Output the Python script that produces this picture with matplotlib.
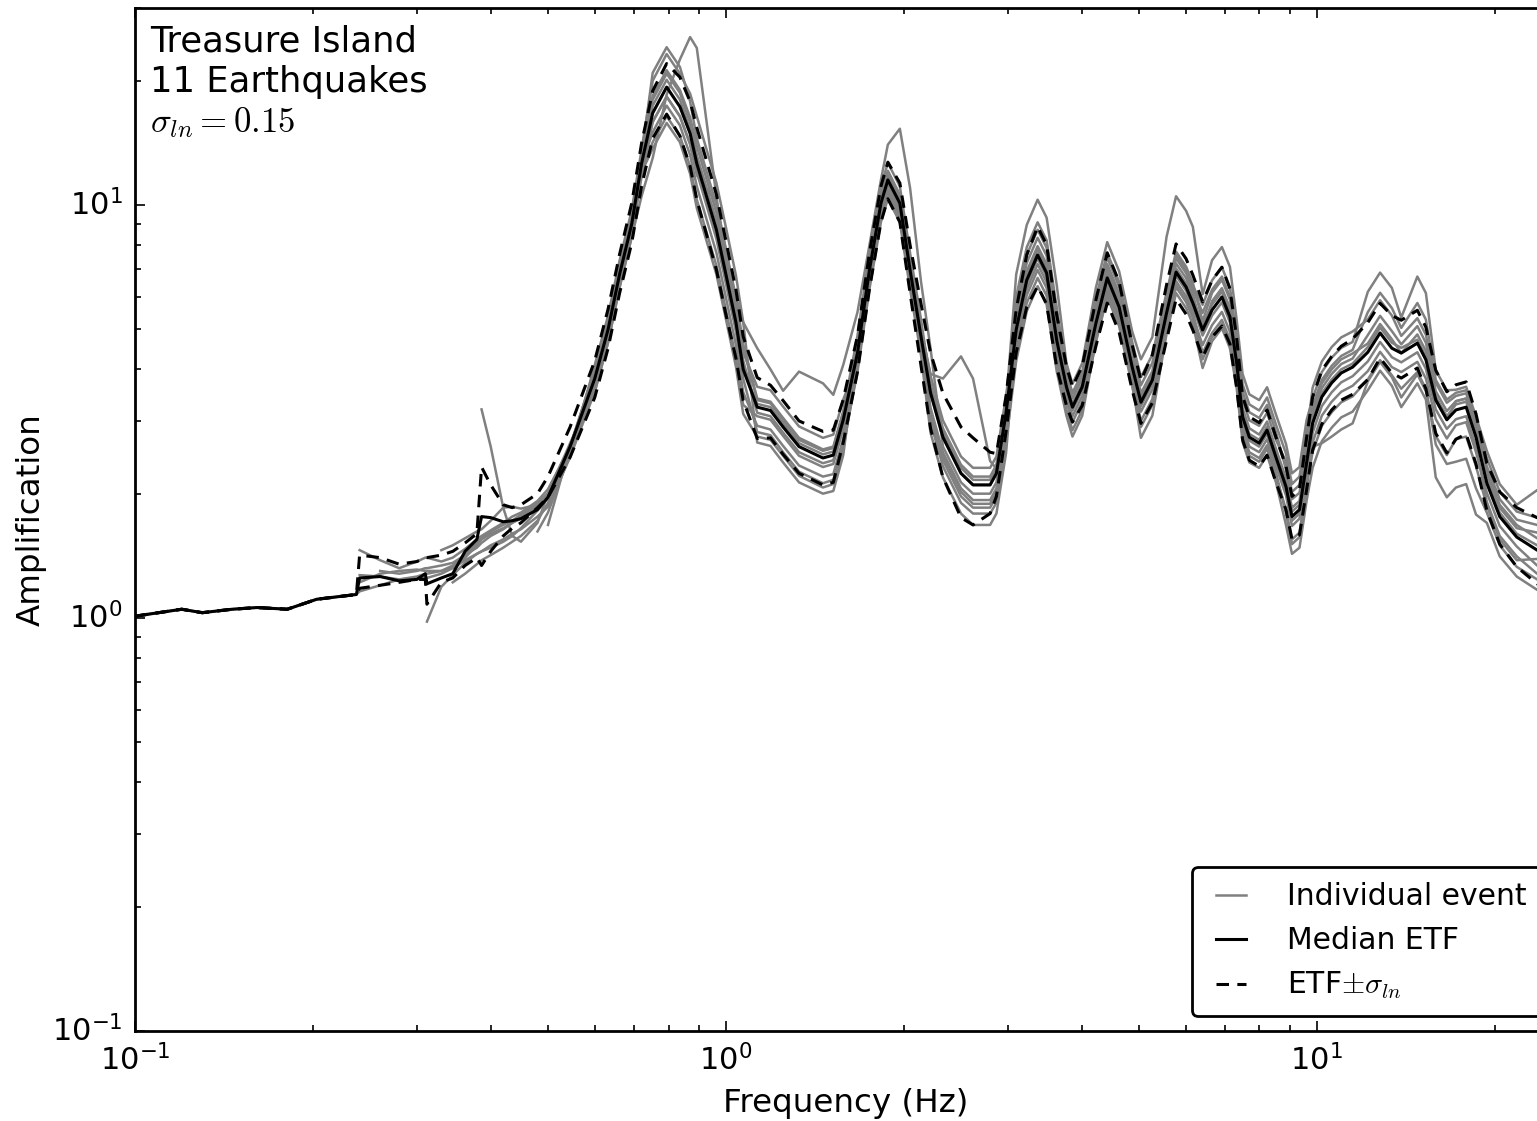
import matplotlib
matplotlib.use('Agg')
import matplotlib.pyplot as plt
import numpy as np

plt.style.use('classic')

nan = np.nan

# frequency grid (Hz) the curves were read at
freq = [0.100, 0.120, 0.130, 0.146, 0.161, 0.181, 0.203, 0.237,
        0.240, 0.260, 0.280, 0.300, 0.310, 0.312, 0.330, 0.345, 0.362, 0.379,
        0.386, 0.400, 0.420, 0.435, 0.450, 0.480, 0.500, 0.545,
        0.600, 0.632, 0.661, 0.693, 0.720, 0.752, 0.794, 0.836, 0.870, 0.893,
        0.964, 1.00, 1.04, 1.07,
        1.13, 1.19, 1.25, 1.33, 1.46, 1.52, 1.58,
        1.67, 1.75, 1.83, 1.88, 1.97, 2.05, 2.14,
        2.22, 2.33, 2.50, 2.62, 2.80, 2.87, 2.98,
        3.10, 3.23, 3.37, 3.49, 3.63, 3.77, 3.86, 4.01, 4.23, 4.42, 4.63, 4.87, 5.04, 5.27,
        5.57, 5.78, 6.01, 6.17, 6.41, 6.65, 6.91, 7.13,
        7.32, 7.49, 7.69, 7.99, 8.24, 8.53, 8.87, 9.08, 9.35, 9.61,
        9.84, 10.2, 10.6, 11.0, 11.5, 12.2, 12.8, 13.4, 13.9, 14.8, 15.3, 15.9, 16.6,
        17.2, 17.9, 18.6, 19.4, 20.4, 21.8, 23.6, 25.0]

median_etf = [1.01, 1.05, 1.03, 1.05, 1.06, 1.05, 1.11, 1.14,
              1.25, 1.26, 1.23, 1.24, 1.28, 1.21, 1.25, 1.28, 1.45, 1.55,
              1.76, 1.75, 1.71, 1.72, 1.74, 1.83, 1.96, 2.6,
              3.8, 5.0, 6.8, 9.0, 12.6, 16.7, 19.3, 17.3, 14.9, 12.6,
              8.7, 6.8, 5.2, 4.0,
              3.24, 3.18, 2.9, 2.6, 2.44, 2.48, 3.02,
              4.38, 6.96, 10.1, 11.5, 10.1, 6.96, 4.79,
              3.51, 2.74, 2.24, 2.10, 2.10, 2.24, 3.14,
              4.99, 6.58, 7.57, 6.85, 4.71, 3.63, 3.24, 3.63, 5.18, 6.66, 5.66, 4.06, 3.33, 3.77,
              5.48, 6.88, 6.33, 5.79, 4.98, 5.57, 5.99, 5.36,
              4.14, 3.07, 2.74, 2.65, 2.85, 2.45, 2.08, 1.76, 1.83, 2.37,
              2.96, 3.43, 3.71, 3.92, 4.05, 4.4, 4.9, 4.5, 4.38, 4.63, 4.22, 3.37, 3.02,
              3.19, 3.24, 2.74, 2.12, 1.76, 1.57, 1.46, 1.40]

upper_etf = [1.01, 1.05, 1.03, 1.05, 1.06, 1.05, 1.11, 1.14,
             1.42, 1.40, 1.35, 1.37, 1.40, 1.40, 1.42, 1.45, 1.52, 1.60,
             2.32, 2.1, 1.88, 1.85, 1.88, 2.0, 2.2, 2.9,
             4.2, 5.6, 7.6, 10.1, 14.1, 18.9, 22.0, 20.4, 17.8, 15.4,
             10.6, 8.2, 6.24, 4.8,
             3.82, 3.66, 3.36, 3.0, 2.83, 2.85, 3.38,
             4.82, 7.66, 11.1, 12.7, 11.3, 8.0, 5.75,
             4.39, 3.5, 2.9, 2.73, 2.52, 2.5, 3.45,
             5.59, 7.57, 8.86, 8.01, 5.42, 4.07, 3.63, 4.07, 5.9, 7.66, 6.51, 4.59, 3.76, 4.34,
             6.41, 8.05, 7.41, 6.77, 5.83, 6.57, 7.07, 6.27,
             4.76, 3.44, 3.07, 2.97, 3.19, 2.74, 2.33, 1.97, 2.05, 2.73,
             3.43, 3.98, 4.30, 4.55, 4.74, 5.19, 5.78, 5.4, 5.26, 5.56, 5.06, 3.98, 3.53,
             3.67, 3.73, 3.12, 2.37, 2.02, 1.85, 1.75, 1.68]

lower_etf = [1.01, 1.05, 1.03, 1.05, 1.06, 1.05, 1.11, 1.14,
             1.18, 1.20, 1.22, 1.24, 1.24, 1.08, 1.22, 1.25, 1.34, 1.40,
             1.34, 1.45, 1.58, 1.65, 1.70, 1.85, 1.96, 2.45,
             3.42, 4.5, 6.12, 8.1, 11.1, 14.5, 16.6, 14.7, 12.4, 10.3,
             6.96, 5.44, 4.26, 3.36,
             2.72, 2.73, 2.49, 2.24, 2.1, 2.13, 2.66,
             3.94, 6.26, 9.09, 10.35, 9.09, 6.12, 4.07,
             2.88, 2.19, 1.75, 1.68, 1.79, 1.97, 2.83,
             4.39, 5.66, 6.36, 5.75, 4.05, 3.27, 2.98, 3.27, 4.56, 5.79, 4.92, 3.57, 2.96, 3.32,
             4.71, 5.92, 5.44, 4.98, 4.28, 4.79, 5.09, 4.61,
             3.6, 2.7, 2.41, 2.33, 2.48, 2.13, 1.83, 1.55, 1.59, 2.04,
             2.55, 2.95, 3.19, 3.37, 3.48, 3.78, 4.26, 3.92, 3.81, 4.03, 3.59, 2.8, 2.51,
             2.71, 2.79, 2.36, 1.82, 1.51, 1.33, 1.21, 1.16]

# the 11 individual events (nan = event record does not reach that frequency)
ev01 = [1.01, 1.05, 1.03, 1.05, 1.06, 1.05, 1.11, 1.14,
        1.16, 1.20, 1.24, 1.25, 1.25, 1.25, 1.28, 1.32, 1.38, 1.43,
        1.45, 1.48, 1.53, 1.58, 1.65, 1.82, 1.95, 2.6,
        3.8, 5.0, 6.8, 9.0, 12.6, 15.0, 17.4, 15.6, 13.2, 11.1,
        7.66, 5.98, 4.58, 3.52,
        2.92, 2.86, 2.61, 2.34, 2.2, 2.23, 2.72,
        4.25, 6.75, 9.8, 11.2, 9.8, 6.75, 4.65,
        3.23, 2.52, 2.06, 1.93, 1.93, 2.06, 2.89,
        4.59, 6.05, 6.96, 6.3, 4.33, 3.45, 3.08, 3.45, 4.92, 6.33, 5.38, 3.86, 3.16, 3.58,
        5.1, 6.4, 5.89, 5.38, 4.58, 5.12, 5.51, 4.93,
        3.93, 2.92, 2.6, 2.52, 2.71, 2.33, 1.98, 1.67, 1.74, 2.25,
        2.66, 3.09, 3.34, 3.53, 3.65, 3.96, 4.41, 4.05, 3.94, 4.17, 3.8, 3.03, 2.72,
        2.93, 2.98, 2.52, 2.01, 1.67, 1.49, 1.34, 1.29]

ev02 = [nan, nan, nan, nan, nan, nan, nan, nan,
        1.46, 1.38, 1.32, 1.37, 1.40, 1.40, 1.37, 1.40, 1.47, 1.55,
        1.58, 1.63, 1.70, 1.76, 1.80, 1.92, 2.05, 2.6,
        3.99, 5.25, 7.14, 9.45, 13.2, 20.9, 24.1, 21.6, 17.8, 14.5,
        10.0, 7.82, 5.98, 4.6,
        3.4, 3.34, 3.05, 2.73, 2.56, 2.6, 3.17,
        4.82, 7.66, 11.1, 12.65, 11.1, 7.66, 5.27,
        3.69, 2.88, 2.35, 2.2, 2.2, 2.35, 3.3,
        6.79, 8.95, 10.3, 9.32, 6.41, 4.14, 3.69, 4.14, 6.32, 8.13, 6.91, 4.95, 4.23, 4.79,
        8.38, 10.5, 9.68, 8.86, 6.08, 7.35, 7.91, 7.08,
        5.26, 3.9, 3.48, 3.37, 3.62, 3.11, 2.64, 2.24, 2.32, 3.01,
        3.4, 3.94, 4.27, 4.51, 4.66, 6.16, 6.86, 6.3, 5.34, 6.71, 6.12, 3.98, 3.56,
        3.57, 3.63, 3.07, 2.54, 2.11, 1.88, 2.04, 1.96]

ev03 = [nan, nan, nan, nan, nan, nan, nan, nan,
        1.22, 1.28, 1.30, 1.31, 1.30, 1.30, 1.30, 1.33, 1.40, 1.50,
        1.55, 1.60, 1.65, 1.70, 1.76, 1.88, 2.0, 2.65,
        3.61, 4.75, 6.46, 8.55, 12.0, 13.7, 15.8, 14.2, 11.9, 9.83,
        6.79, 5.3, 4.06, 3.12,
        2.75, 2.7, 2.47, 2.21, 2.07, 2.11, 2.57,
        4.03, 6.4, 9.29, 10.6, 9.29, 6.4, 4.41,
        2.98, 2.33, 1.9, 1.79, 1.79, 1.9, 2.67,
        4.19, 5.53, 6.36, 5.75, 3.96, 3.09, 2.75, 3.09, 4.71, 6.06, 5.15, 3.69, 2.73, 3.09,
        4.88, 6.12, 5.63, 5.15, 4.03, 4.68, 5.03, 4.5,
        3.6, 2.67, 2.38, 2.31, 2.48, 2.13, 1.68, 1.43, 1.48, 1.92,
        2.31, 2.68, 2.89, 3.06, 3.16, 3.56, 3.97, 3.65, 3.24, 3.7, 3.38, 2.19, 1.96,
        2.07, 2.11, 1.78, 1.7, 1.41, 1.26, 1.17, 1.12]

ev04 = [nan, nan, nan, nan, nan, nan, nan, nan,
        1.27, 1.26, 1.24, 1.26, 1.28, 1.28, 1.30, 1.34, 1.42, 1.52,
        1.56, 1.62, 1.68, 1.72, 1.78, 1.90, 2.0, 2.6,
        3.88, 5.1, 6.94, 9.18, 12.85, 17.4, 20.1, 18.0, 15.2, 12.6,
        8.7, 6.8, 5.2, 4.0,
        3.3, 3.24, 2.96, 2.65, 2.49, 2.53, 3.08,
        4.47, 7.1, 10.3, 11.7, 10.3, 7.1, 4.89,
        3.51, 2.74, 2.24, 2.1, 2.1, 2.24, 3.14,
        5.14, 6.78, 7.8, 7.06, 4.85, 3.7, 3.3, 3.7, 5.28, 6.79, 5.77, 4.14, 3.43, 3.88,
        5.59, 7.02, 6.46, 5.91, 5.13, 5.74, 6.17, 5.52,
        4.22, 3.13, 2.79, 2.7, 2.91, 2.5, 2.14, 1.81, 1.88, 2.44,
        3.02, 3.5, 3.78, 4.0, 4.13, 4.53, 5.05, 4.64, 4.51, 4.72, 4.3, 3.44, 3.08,
        3.29, 3.34, 2.82, 2.16, 1.8, 1.6, 1.5, 1.44]

ev05 = [nan, nan, nan, nan, nan, nan, nan, nan,
        nan, nan, nan, nan, nan, 0.98, 1.19, 1.27, 1.36, 1.43,
        1.45, 1.50, 1.55, 1.60, 1.64, 1.76, 1.86, 2.45,
        3.53, 4.65, 6.32, 8.37, 11.7, 15.9, 18.3, 16.4, 14.0, 11.8,
        10.2, 7.8, 5.8, 4.4,
        3.63, 3.56, 3.25, 2.91, 2.73, 2.78, 3.38,
        4.16, 6.61, 9.6, 10.9, 9.6, 6.61, 4.55,
        3.62, 2.82, 2.31, 2.16, 2.16, 2.31, 3.23,
        5.49, 7.24, 8.33, 7.54, 5.18, 3.81, 3.4, 3.81, 5.59, 7.19, 6.11, 4.38, 3.5, 3.96,
        5.92, 7.43, 6.84, 6.25, 5.48, 6.24, 6.71, 6.0,
        4.55, 3.38, 3.01, 2.92, 3.14, 2.7, 2.39, 2.02, 2.1, 2.73,
        3.61, 4.18, 4.53, 4.78, 4.94, 5.28, 5.88, 5.4, 4.82, 5.32, 4.85, 3.71, 3.32,
        3.45, 3.5, 2.96, 2.33, 1.94, 1.73, 1.68, 1.61]

ev06 = [nan, nan, nan, nan, nan, nan, nan, nan,
        nan, nan, nan, nan, nan, nan, nan, 1.22, 1.28, 1.35,
        1.38, 1.42, 1.48, 1.53, 1.58, 1.72, 1.90, 2.5,
        3.69, 4.85, 6.6, 8.73, 12.2, 14.2, 16.4, 14.7, 12.4, 10.3,
        7.13, 5.58, 4.26, 3.28,
        3.08, 3.02, 2.76, 2.47, 2.32, 2.36, 2.87,
        4.07, 6.47, 9.39, 10.7, 9.39, 6.47, 4.45,
        3.09, 2.41, 1.97, 1.85, 1.85, 1.97, 2.76,
        4.74, 6.25, 7.19, 6.51, 4.47, 3.34, 2.98, 3.34, 4.82, 6.19, 5.26, 3.78, 3.0, 3.39,
        5.21, 6.54, 6.01, 5.5, 4.38, 4.9, 5.27, 4.72,
        3.73, 2.76, 2.47, 2.39, 2.57, 2.21, 1.83, 1.55, 1.61, 2.09,
        2.52, 2.92, 3.15, 3.33, 3.44, 3.78, 4.21, 3.87, 3.59, 3.94, 3.59, 2.63, 2.36,
        2.39, 2.43, 2.06, 1.8, 1.5, 1.33, 1.24, 1.19]

ev07 = [nan, nan, nan, nan, nan, nan, nan, nan,
        nan, nan, nan, nan, nan, nan, nan, nan, nan, nan,
        3.2, 2.6, 1.85, 1.58, 1.53, 1.70, 2.0, 2.6,
        3.53, 4.65, 6.32, 8.37, 10.5, 13.0, 18.5, 22.5, 25.5, 24.0,
        10.5, 7.2, 5.6, 4.5,
        3.37, 3.31, 3.02, 2.7, 2.54, 2.58, 3.14,
        4.6, 7.31, 10.6, 12.1, 10.6, 7.31, 5.03,
        3.86, 3.01, 2.46, 2.31, 2.31, 2.46, 3.45,
        5.24, 6.91, 7.95, 7.19, 4.95, 3.63, 3.24, 3.63, 5.44, 6.99, 5.94, 4.26, 3.33, 3.77,
        5.75, 7.22, 6.65, 6.08, 4.98, 5.85, 6.29, 5.63,
        4.35, 3.22, 2.88, 2.78, 2.99, 2.57, 2.18, 1.85, 1.92, 2.49,
        3.11, 3.6, 3.9, 4.12, 4.25, 4.84, 5.39, 4.95, 4.6, 5.09, 4.64, 3.54, 3.17,
        3.35, 3.4, 2.88, 2.23, 1.85, 1.65, 1.61, 1.54]

ev08 = [nan, nan, nan, nan, nan, nan, nan, nan,
        nan, nan, nan, nan, nan, nan, nan, nan, nan, nan,
        nan, nan, nan, nan, nan, nan, 1.68, 2.6,
        3.99, 5.25, 7.14, 9.45, 13.2, 18.4, 21.2, 19.0, 16.3, 13.9,
        9.57, 7.48, 6.0, 5.2,
        4.5, 4.0, 3.55, 3.95, 3.7, 3.47, 4.1,
        5.5, 8.0, 11.5, 14.0, 15.3, 11.0, 6.5,
        4.5, 2.6, 2.13, 2.0, 2.0, 2.13, 2.98,
        5.74, 7.57, 8.71, 7.88, 5.42, 3.92, 3.5, 3.92, 5.8, 7.46, 6.34, 4.55, 3.66, 4.15,
        6.03, 7.57, 6.96, 6.37, 5.73, 6.57, 7.07, 6.32,
        4.76, 3.53, 3.15, 3.05, 3.28, 2.82, 2.29, 1.94, 2.01, 2.61,
        3.26, 3.77, 4.08, 4.31, 4.46, 5.5, 6.13, 5.63, 5.04, 5.79, 5.28, 3.77, 3.38,
        3.51, 3.56, 3.01, 2.44, 2.02, 1.81, 1.75, 1.68]

ev09 = [nan, nan, nan, nan, nan, nan, nan, nan,
        nan, 1.30, 1.28, 1.30, 1.32, 1.32, 1.34, 1.36, 1.42, 1.48,
        1.52, 1.58, 1.64, 1.70, 1.74, 1.85, 1.95, 2.55,
        3.91, 5.15, 7.0, 9.27, 13.0, 18.0, 20.8, 18.7, 15.8, 13.2,
        9.14, 7.14, 5.46, 4.2,
        3.14, 3.08, 2.81, 2.52, 2.37, 2.41, 2.93,
        4.29, 6.82, 9.9, 11.3, 9.9, 6.82, 5.0,
        3.9, 3.8, 4.3, 3.8, 2.4, 2.3, 2.9,
        4.39, 5.79, 6.66, 6.03, 4.14, 3.19, 2.85, 3.19, 4.66, 5.99, 5.09, 3.65, 2.9, 3.28,
        5.04, 6.33, 5.82, 5.33, 4.23, 4.79, 5.15, 4.61,
        3.81, 2.82, 2.52, 2.44, 2.62, 2.25, 1.79, 1.51, 1.57, 2.04,
        2.81, 3.26, 3.52, 3.72, 3.85, 4.18, 4.66, 4.28, 4.16, 4.4, 4.01, 3.2, 2.87,
        3.03, 3.08, 2.6, 1.91, 1.58, 1.41, 1.28, 1.23]

ev10 = [nan, nan, nan, nan, nan, nan, nan, nan,
        nan, nan, nan, nan, nan, nan, 1.46, 1.50, 1.56, 1.62,
        1.64, 1.72, 1.85, 1.86, 1.84, 1.88, 2.0, 2.6,
        3.72, 4.9, 6.66, 8.82, 12.3, 15.9, 18.3, 16.4, 14.1, 12.0,
        8.27, 6.46, 4.94, 3.8,
        2.82, 2.77, 2.52, 2.26, 2.12, 2.16, 2.63,
        3.94, 6.26, 9.09, 10.35, 9.09, 6.26, 4.31,
        2.81, 2.19, 1.79, 1.68, 1.68, 1.79, 2.51,
        4.89, 6.45, 7.42, 6.71, 4.62, 3.56, 3.18, 3.56, 5.08, 6.53, 5.55, 3.98, 3.26, 3.69,
        5.37, 6.74, 6.2, 5.67, 4.83, 5.4, 5.81, 5.2,
        4.06, 3.01, 2.69, 2.6, 2.79, 2.4, 2.04, 1.72, 1.79, 2.32,
        2.6, 2.65, 2.75, 2.86, 2.96, 3.74, 4.17, 3.83, 3.42, 3.89, 3.54, 2.76, 2.48,
        2.71, 2.75, 2.33, 1.87, 1.55, 1.38, 1.39, 1.33]

ev11 = [nan, nan, nan, nan, nan, nan, nan, nan,
        nan, nan, nan, nan, nan, nan, nan, nan, nan, nan,
        nan, nan, nan, nan, nan, 1.62, 1.80, 2.5,
        4.1, 5.4, 7.34, 9.72, 13.6, 20.0, 23.2, 20.8, 18.6, 16.4,
        11.3, 8.84, 6.76, 5.2,
        2.66, 2.61, 2.38, 2.13, 2.0, 2.03, 2.48,
        4.51, 7.17, 10.4, 11.8, 10.4, 7.17, 4.93,
        3.16, 2.47, 2.02, 1.89, 1.89, 2.02, 2.83,
        5.99, 7.9, 9.08, 8.22, 5.65, 3.92, 3.5, 3.92, 5.96, 7.66, 6.51, 4.67, 3.83, 4.34,
        6.14, 7.71, 7.09, 6.48, 5.23, 6.13, 6.59, 5.9,
        4.97, 3.68, 3.29, 3.18, 3.42, 2.94, 2.5, 2.11, 2.2, 2.84,
        3.2, 3.7, 4.0, 4.23, 4.37, 4.62, 5.15, 4.73, 4.38, 4.86, 4.43, 3.37, 3.02,
        3.35, 3.4, 2.88, 2.27, 1.88, 1.68, 1.56, 1.5]

events = [ev01, ev02, ev03, ev04, ev05, ev06, ev07, ev08, ev09, ev10, ev11]

for name, arr in [('median', median_etf), ('upper', upper_etf), ('lower', lower_etf)] + \
        [('ev%02d' % (i + 1), e) for i, e in enumerate(events)]:
    if len(arr) != len(freq):
        raise ValueError('%s has %d values, freq has %d' % (name, len(arr), len(freq)))

fig = plt.figure(figsize=(15.37, 11.21), dpi=100)
# axes run past the right edge of the picture, like the original crop
ax = fig.add_axes([0.0878, 0.0803, 0.9252, 0.9126])

for i, ev in enumerate(events):
    ax.plot(freq, ev, color='gray', lw=1.8,
            label='Individual event' if i == 0 else None)
ax.plot(freq, median_etf, color='k', ls='-', lw=2.2, label='Median ETF')
ax.plot(freq, upper_etf, color='k', ls='--', dashes=(9, 6), lw=2.2,
        label=r'ETF$\pm\sigma_{ln}$')
ax.plot(freq, lower_etf, color='k', ls='--', dashes=(9, 6), lw=2.2)

ax.set_xscale('log')
ax.set_yscale('log')
ax.set_xlim(0.1, 25.5)
ax.set_ylim(0.1, 30)

ax.set_xlabel('Frequency (Hz)', fontsize=23.4)
ax.set_ylabel('Amplification', fontsize=23.4)
ax.xaxis.set_label_coords(0.5, -0.056)
ax.yaxis.set_label_coords(-0.062, 0.5)

ax.tick_params(which='major', direction='in', length=7, width=1.2,
               labelsize=22, pad=9, top=True, right=True)
ax.tick_params(which='minor', direction='in', length=4, width=1.2,
               top=True, right=True)
for sp in ax.spines.values():
    sp.set_linewidth(2.0)

ax.text(0.0106, 0.957, 'Treasure Island', transform=ax.transAxes,
        fontsize=25.5, va='baseline')
ax.text(0.0106, 0.918, '11 Earthquakes', transform=ax.transAxes,
        fontsize=25.5, va='baseline')
ax.text(0.0106, 0.879, r'$\sigma_{ln} = 0.15$', transform=ax.transAxes,
        fontsize=25, va='baseline')

leg = ax.legend(loc='lower right', fontsize=21.5, fancybox=True,
                handlelength=1.6, handletextpad=1.1, borderpad=0.5,
                borderaxespad=0.5, labelspacing=0.5)
leg.get_frame().set_linewidth(2.0)
leg.get_frame().set_edgecolor('k')

fig.savefig('out.png', dpi=100)
